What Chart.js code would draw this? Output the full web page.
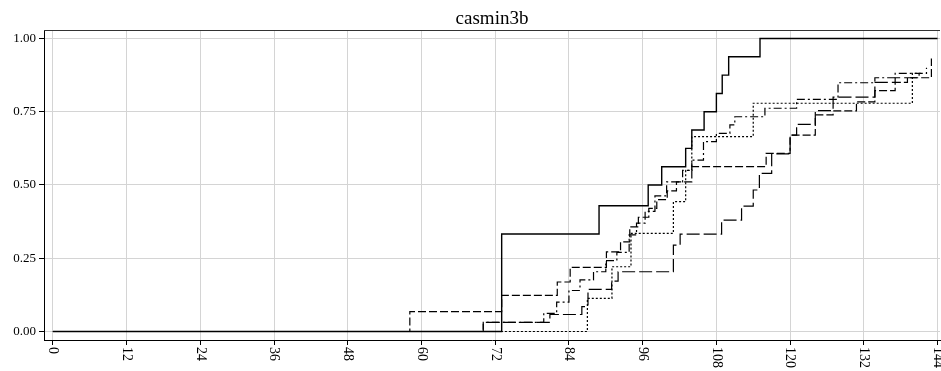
<!DOCTYPE html>
<html>
<head>
<meta charset="utf-8">
<title>casmin3b</title>
<script src="https://cdn.jsdelivr.net/npm/chart.js@4/dist/chart.umd.min.js"></script>
<style>
  html, body { margin: 0; padding: 0; background: #fff; }
  #c { display: block; }
</style>
</head>
<body>
<canvas id="c" width="941" height="371"></canvas>
<script>
// Cumulative failure curves for the casmin3b groups (step functions, months on x)
const chartTitle = "casmin3b";
const xTicks = [0, 12, 24, 36, 48, 60, 72, 84, 96, 108, 120, 132, 144];
const yTicks = [0, 0.25, 0.5, 0.75, 1.0];

// solid line
const solidTime = [0, 73.05, 88.9, 96.9, 99.1, 103.0, 104.0, 106.0, 108.0, 108.95, 110.0, 115.1, 144];
const solidProb = [0, 0.333, 0.429, 0.5, 0.5625, 0.625, 0.6875, 0.75, 0.8125, 0.875, 0.9375, 1.0, 1.0];

// short dashes
const dashTime = [0, 58.1, 73.05, 82.1, 84.2, 90.1, 92.4, 93.9, 95.3, 97.0, 98.3, 100.0, 101.5, 104.0, 116.1, 120.0, 124.1, 127.0, 130.8, 133.8, 137.1, 139.1, 143.0];
const dashProb = [0, 0.068, 0.123, 0.169, 0.219, 0.272, 0.306, 0.357, 0.39, 0.42, 0.45, 0.48, 0.511, 0.5625, 0.608, 0.67, 0.739, 0.753, 0.784, 0.822, 0.85, 0.866, 0.932];

// long dashes
const longTime = [0, 70.05, 80.9, 86.1, 87.1, 90.95, 92.0, 101.0, 102.1, 108.85, 112.1, 114.0, 115.0, 117.0, 120.0, 121.06, 124.1, 127.0, 133.8, 137.1, 141.0];
const longProb = [0, 0.031, 0.058, 0.085, 0.144, 0.172, 0.204, 0.295, 0.332, 0.38, 0.428, 0.483, 0.54, 0.606, 0.67, 0.707, 0.754, 0.80, 0.85, 0.866, 0.881];

// dotted
const dotTime = [0, 87.0, 91.0, 94.1, 101.0, 103.0, 104.0, 114.0, 139.9, 141.5];
const dotProb = [0, 0.113, 0.221, 0.335, 0.443, 0.55, 0.665, 0.779, 0.881, 0.881];

// dash-dot
const dashDotTime = [0, 70.05, 79.9, 82.0, 84.0, 85.8, 88.0, 90.0, 91.8, 93.8, 95.0, 96.4, 98.0, 99.9, 102.5, 104.0, 105.9, 108.0, 110.2, 111.0, 115.9, 121.06, 127.8, 133.8, 137.1, 142.2];
const dashDotProb = [0, 0.031, 0.062, 0.10, 0.14, 0.176, 0.204, 0.242, 0.27, 0.33, 0.37, 0.41, 0.463, 0.511, 0.55, 0.585, 0.648, 0.676, 0.705, 0.733, 0.762, 0.792, 0.849, 0.866, 0.881, 0.90];

const pts = (t, p) => t.map((v, i) => ({ x: v, y: p[i] }));

function series(t, p, dash, width) {
  return {
    data: pts(t, p),
    stepped: 'before',
    borderColor: '#000',
    borderWidth: width,
    borderDash: dash,
    pointRadius: 0,
    fill: false,
    tension: 0
  };
}

const serif = "'Liberation Serif', 'Times New Roman', serif";

// title, top frame line and vertical x labels
const decor = {
  id: 'decor',
  afterDraw(chart) {
    const ctx = chart.ctx;
    const a = chart.chartArea;
    const xs = chart.scales.x;
    ctx.save();
    ctx.strokeStyle = '#333';
    ctx.lineWidth = 1;
    ctx.beginPath();
    ctx.moveTo(a.left, a.top + 0.5);
    ctx.lineTo(a.right, a.top + 0.5);
    ctx.stroke();

    ctx.fillStyle = '#000';
    ctx.font = '19px ' + serif;
    ctx.textAlign = 'center';
    ctx.textBaseline = 'alphabetic';
    ctx.fillText(chartTitle, (a.left + a.right) / 2, 24);

    ctx.font = '14px ' + serif;
    ctx.textAlign = 'left';
    ctx.textBaseline = 'middle';
    xTicks.forEach(v => {
      const px = xs.getPixelForValue(v);
      ctx.save();
      ctx.translate(px, a.bottom + 7);
      ctx.rotate(Math.PI / 2);
      ctx.fillText(String(v), 0, 0);
      ctx.restore();
    });
    ctx.restore();
  }
};

new Chart(document.getElementById('c'), {
  type: 'line',
  data: {
    datasets: [
      series(solidTime, solidProb, [], 1.4),
      series(dashTime, dashProb, [8, 3], 1.2),
      series(longTime, longProb, [13, 4], 1.2),
      series(dotTime, dotProb, [2, 2], 1.2),
      series(dashDotTime, dashDotProb, [8, 3, 2, 3], 1.2)
    ]
  },
  options: {
    responsive: false,
    animation: false,
    devicePixelRatio: 1,
    layout: { padding: { top: 30, right: 1, left: 0, bottom: 0 } },
    plugins: {
      legend: { display: false },
      title: { display: false },
      tooltip: { enabled: false }
    },
    scales: {
      x: {
        type: 'linear',
        min: -1.45,
        max: 144.4,
        afterBuildTicks(s) { s.ticks = xTicks.map(v => ({ value: v })); },
        afterFit(s) { s.height = 31; },
        grid: { color: '#d4d4d4', lineWidth: 1, tickColor: '#000', tickLength: 5 },
        border: { display: true, color: '#000', width: 1 },
        ticks: { display: false }
      },
      y: {
        type: 'linear',
        min: -0.029,
        max: 1.029,
        afterBuildTicks(s) { s.ticks = yTicks.map(v => ({ value: v })); },
        afterFit(s) { s.width = 44; },
        grid: { color: '#d4d4d4', lineWidth: 1, tickColor: '#000', tickLength: 5 },
        border: { display: true, color: '#000', width: 1 },
        ticks: {
          color: '#000',
          padding: 3,
          font: { family: serif, size: 13 },
          callback: v => Number(v).toFixed(2)
        }
      }
    }
  },
  plugins: [decor]
});
</script>
</body>
</html>
